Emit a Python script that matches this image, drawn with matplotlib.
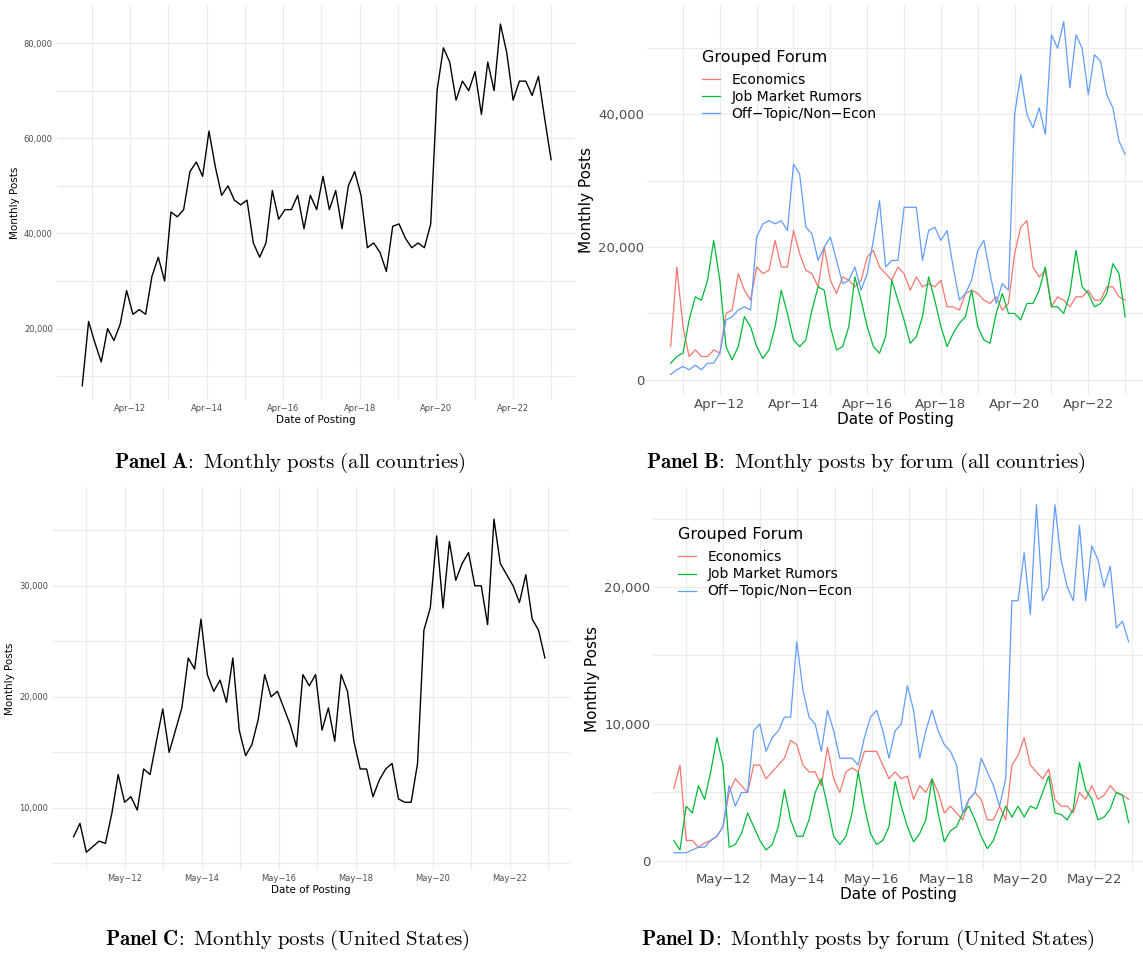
import matplotlib
matplotlib.use("Agg")
import matplotlib.pyplot as plt
import matplotlib.dates as mdates
import matplotlib.ticker as mticker
import pandas as pd
import numpy as np

plt.rcParams['mathtext.fontset'] = 'cm'

dates_a = pd.date_range("2011-01-01", "2023-04-01", periods=75)
dates_b = pd.date_range("2010-12-01", "2023-04-01", periods=75)
dates_cd = pd.date_range("2011-01-01", "2023-04-01", periods=75)

total_all = [8, 21.5, 17, 13, 20, 17.5, 21, 28, 23, 24, 23, 31, 35, 30, 44.5, 43.5, 45, 53, 55, 52,
             61.5, 54, 48, 50, 47, 46, 47, 38, 35, 38, 49, 43, 45, 45, 48, 41, 48, 45, 52, 45,
             49, 41, 50, 53, 48, 37, 38, 36, 32, 41.5, 42, 39, 37, 38, 37, 42, 70, 79, 76, 68,
             72, 70, 74, 65, 76, 70, 84, 78, 68, 72, 72, 69, 73, 64, 55.5]
econ_all = [5, 17, 8, 3.5, 4.5, 3.5, 3.5, 4.5, 4, 10, 10.5, 16, 13.5, 12, 17, 16, 16.5, 21, 17, 17,
            22.5, 19, 16.5, 16, 14, 20, 15, 13, 15.5, 15, 14, 15, 18.5, 19.5, 17, 16, 15, 17, 16, 13.5,
            15.5, 14, 14.5, 14, 15, 11, 11, 10.5, 13, 13.5, 13, 12, 11.5, 12.5, 10.5, 11.5, 19, 23, 24, 17,
            15.5, 16.5, 11, 12.5, 12, 11, 12.5, 12.5, 13.5, 12, 12, 14, 14, 12.5, 12]
jmr_all = [2.5, 3.5, 4, 9, 12.5, 12, 15, 21, 15, 5, 3, 5, 9.5, 8, 5, 3.2, 4.5, 8, 13.5, 10,
           6, 5, 6, 10.5, 14, 13.5, 8, 4.5, 5, 8, 15.5, 12, 8, 5, 4, 6.5, 15, 12, 9, 5.5,
           6.5, 9.5, 15.5, 12, 8, 5, 7, 8.5, 9.5, 13.5, 8, 6, 5.5, 10, 13, 10, 10, 9, 11.5, 11.5,
           13.5, 17, 11, 11, 10, 13, 19.5, 14, 13, 11, 11.5, 13, 17.5, 16, 9.5]
off_all = [0.8, 1.5, 2, 1.5, 2.2, 1.5, 2.5, 2.5, 4, 9, 9.5, 10.5, 11, 10.5, 21.5, 23.5, 24, 23.5, 24, 22.5,
           32.5, 31, 23, 22, 18, 20, 21.5, 18, 14.5, 15, 17, 13.5, 16, 21, 27, 17, 18, 18, 26, 26,
           26, 18, 22.5, 23, 21, 22.5, 17, 12, 13, 15, 19.5, 21, 16, 11.5, 14.5, 13.5, 40, 46, 40, 38,
           41, 37, 52, 50, 54, 44, 52, 50, 43, 49, 48, 43, 41, 36, 34]

total_us = [7.4, 8.6, 6, 6.5, 7, 6.8, 9.5, 13, 10.5, 11, 9.8, 13.5, 13, 16, 18.9, 15, 17, 19, 23.5, 22.5,
            27, 22, 20.5, 21.5, 19.5, 23.5, 17, 14.7, 15.7, 18, 22, 20, 20.5, 19, 17.5, 15.5, 22, 21, 22, 17,
            19, 16, 22, 20.5, 16, 13.5, 13.5, 11, 12.5, 13.5, 14, 10.8, 10.5, 10.5, 14, 26, 28, 34.5, 28, 34,
            30.5, 32, 33, 30, 30, 26.5, 36, 32, 31, 30, 28.5, 31, 27, 26, 23.5]
econ_us = [5.3, 7, 1.5, 1.5, 1, 1.3, 1.5, 1.8, 2.5, 5, 6, 5.5, 5, 7, 7, 6, 6.5, 7, 7.5, 8.8,
           8.5, 7, 6.5, 6.5, 5.5, 8.3, 6, 5, 6.5, 6.8, 6.5, 8, 8, 8, 7, 6, 6.5, 6, 6.2, 4.5,
           5.5, 5, 6, 5, 3.5, 4, 3.5, 3, 4.5, 5, 4.5, 3, 3, 4, 3, 7, 7.7, 9, 7, 6.5,
           6, 6.7, 4.5, 4, 4, 3.5, 5, 4.5, 5.5, 4.5, 4.8, 5.5, 5, 4.8, 4.5]
jmr_us = [1.5, 0.8, 4, 3.5, 5.5, 4.5, 6.5, 9, 7, 1, 1.2, 2, 3.5, 2.5, 1.5, 0.8, 1.2, 2.5, 5.2, 3,
          1.8, 1.8, 3, 5, 6, 4, 1.8, 1.2, 1.8, 3.5, 6.5, 4, 2, 1.2, 1.5, 2.5, 5.8, 4, 2.5, 1.4,
          2, 3, 6, 3.5, 1.4, 2.2, 2.5, 3.5, 4, 3, 1.8, 0.9, 1.5, 2.8, 4, 3.2, 4, 3.2, 4, 3.8,
          5, 6.2, 3.5, 3.4, 3, 3.8, 7.2, 5.2, 4.5, 3, 3.2, 3.8, 5, 4.8, 2.8]
off_us = [0.6, 0.6, 0.6, 0.8, 1, 1, 1.5, 1.8, 2.5, 5.5, 4, 5, 5, 9.5, 10, 8, 9, 9.5, 10.5, 10.5,
          16, 12.5, 10.5, 10, 8, 11, 9.5, 7.5, 7.5, 7.5, 7, 9, 10.5, 11, 9.5, 7.5, 9.5, 10, 12.8, 11,
          7.5, 9.5, 11, 9.5, 8.5, 8, 7, 3.5, 4.5, 5, 7.5, 6.5, 5.5, 4, 6, 19, 19, 22.5, 18, 26,
          19, 20, 26, 22, 20, 19, 24.5, 19, 23, 22, 20, 21.5, 17, 17.5, 16]

forums = ["Economics", "Job Market Rumors", "Off\u2212Topic/Non\u2212Econ"]
colors = ["#F8766D", "#00BA38", "#619CFF"]

W, H = 1143, 956
fig = plt.figure(figsize=(W/100, H/100), dpi=100)

def ax_px(x0, y0, x1, y1):
    return fig.add_axes([x0/W, 1-y1/H, (x1-x0)/W, (y1-y0)/H])

def style(ax, ylim, ymaj, mon, tick_fs, lab_fs, pad):
    ax.set_facecolor("white")
    for s in ax.spines.values():
        s.set_visible(False)
    ax.set_ylim(*ylim)
    ax.yaxis.set_major_locator(mticker.MultipleLocator(ymaj))
    ax.yaxis.set_minor_locator(mticker.MultipleLocator(ymaj/2))
    ax.yaxis.set_major_formatter(mticker.FuncFormatter(lambda v, p: f"{int(v):,}"))
    ax.xaxis.set_major_locator(mdates.YearLocator(2, month=mon, day=1))
    ax.xaxis.set_minor_locator(mdates.YearLocator(1, month=mon, day=1))
    name = "Apr" if mon == 4 else "May"
    ax.xaxis.set_major_formatter(mticker.FuncFormatter(
        lambda v, p: name + "\u2212" + mdates.num2date(v).strftime("%y")))
    ax.grid(which="major", color="#EBEBEB", lw=0.8)
    ax.grid(which="minor", color="#EBEBEB", lw=0.8)
    ax.tick_params(which="both", length=0, labelsize=tick_fs, colors="#4D4D4D", pad=pad)
    ax.set_xlabel("Date of Posting", fontsize=lab_fs, labelpad=1)
    ax.set_ylabel("Monthly Posts", fontsize=lab_fs, labelpad=3)
    ax.set_axisbelow(True)

def legend(ax, x, y):
    leg = ax.legend(title="Grouped Forum", loc="upper left", bbox_to_anchor=(x, y),
                    frameon=False, fontsize=10, title_fontsize=11.5, handlelength=1.3,
                    labelspacing=0.22, borderaxespad=0)
    leg._legend_box.align = "left"
    leg._legend_box.sep = 6

# Panel A
axA = ax_px(57, 5, 575, 400)
axA.plot(dates_a, np.array(total_all)*1000, color="black", lw=1.0)
style(axA, (5000, 88000), 20000, 4, 6, 7.5, 3)
axA.set_xlim(pd.Timestamp("2010-05-05"), pd.Timestamp("2023-11-15"))

# Panel B
axB = ax_px(647, 5, 1143, 395)
for vals, c, lab in zip([econ_all, jmr_all, off_all], colors, forums):
    axB.plot(dates_b, np.array(vals)*1000, color=c, lw=0.9, label=lab)
style(axB, (-2300, 56500), 20000, 4, 9.5, 11, 2)
axB.set_xlim(pd.Timestamp("2010-04-10"), pd.Timestamp("2023-09-25"))
legend(axB, 0.1, 0.9)

# Panel C
axC = ax_px(52, 487, 570, 870)
axC.plot(dates_cd, np.array(total_us)*1000, color="black", lw=1.0)
style(axC, (4400, 38900), 10000, 5, 6, 7.5, 3)
axC.set_xlim(pd.Timestamp("2010-06-10"), pd.Timestamp("2023-11-25"))

# Panel D
axD = ax_px(653, 487, 1143, 870)
for vals, c, lab in zip([econ_us, jmr_us, off_us], colors, forums):
    axD.plot(dates_cd, np.array(vals)*1000, color=c, lw=0.9, label=lab)
style(axD, (-660, 27300), 10000, 5, 9.5, 11, 2)
axD.set_xlim(pd.Timestamp("2010-06-10"), pd.Timestamp("2023-08-20"))
legend(axD, 0.04, 0.91)

caps = [(290, 463, r"$\mathbf{Panel\ A\!:}\ \mathrm{Monthly\ posts\ (all\ countries)}$"),
        (866, 463, r"$\mathbf{Panel\ B\!:}\ \mathrm{Monthly\ posts\ by\ forum\ (all\ countries)}$"),
        (287, 940, r"$\mathbf{Panel\ C\!:}\ \mathrm{Monthly\ posts\ (United\ States)}$"),
        (868, 940, r"$\mathbf{Panel\ D\!:}\ \mathrm{Monthly\ posts\ by\ forum\ (United\ States)}$")]
for x, y, t in caps:
    fig.text(x/W, 1-y/H, t, ha="center", va="center", fontsize=15)

fig.savefig("out.png", dpi=100, facecolor="white")
